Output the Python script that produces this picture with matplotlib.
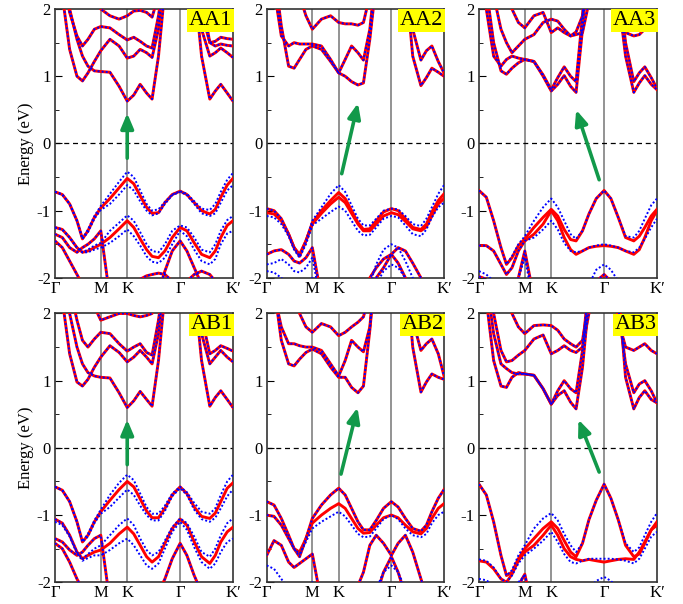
import matplotlib
matplotlib.use('Agg')
import matplotlib.pyplot as plt

plt.rcParams['font.family'] = 'serif'
plt.rcParams['font.serif'] = ['Liberation Serif', 'DejaVu Serif']

# k-path Γ-M-K-Γ-K' (|b| = 1)
k_ticks = [0.0, 0.5, 0.7887, 1.366, 1.943]
k_labels = ['Γ', 'M', 'K', 'Γ', 'K′']
k = [0.0, 0.08, 0.16, 0.24, 0.30, 0.36, 0.43, 0.5,
     0.6, 0.7, 0.7887,
     0.86, 0.93, 1.0, 1.06, 1.13, 1.2, 1.28, 1.366,
     1.44, 1.52, 1.6, 1.69, 1.75, 1.81, 1.88, 1.943]

# ---------------- AA1 ----------------
aa1_c1 = [3.0, 2.2, 1.4, 1.0, 0.93, 1.05, 1.22, 1.38, 1.55, 1.45, 1.27, 1.3, 1.4, 1.35, 1.28, 1.7, 2.6, 3.0, 3.0, 3.0, 2.6, 1.7, 1.3, 1.35, 1.42, 1.35, 1.28]
aa1_c2 = [3.0, 2.6, 2.0, 1.55, 1.3, 1.15, 1.08, 1.07, 1.06, 0.85, 0.63, 0.72, 0.88, 0.75, 0.66, 1.3, 2.3, 3.0, 3.0, 3.0, 2.4, 1.3, 0.66, 0.78, 0.88, 0.75, 0.63]
aa1_c3 = [3.0, 2.5, 1.95, 1.6, 1.45, 1.55, 1.7, 1.74, 1.72, 1.62, 1.54, 1.58, 1.52, 1.45, 1.42, 1.9, 2.6, 3.0, 3.0, 3.0, 2.7, 1.95, 1.5, 1.52, 1.58, 1.56, 1.55]
aa1_c4 = [3.0, 3.0, 3.0, 2.9, 2.7, 2.5, 2.2, 2.0, 1.9, 1.85, 1.9, 1.97, 1.98, 1.95, 1.88, 2.2, 3.0, 3.0, 3.0, 3.0, 3.0, 2.2, 1.5, 1.45, 1.48, 1.46, 1.45]
aa1_v3 = [-1.45, -1.55, -1.75, -1.95, -2.1, -2.2, -2.3, -2.4, -2.5, -2.6, -2.6, -2.6, -2.5, -2.4, -2.3, -2.2, -1.9, -1.6, -1.45, -1.6, -1.85, -2.1, -2.3, -2.4, -2.5, -2.5, -2.5]
aa1_v4 = [-2.2, -2.3, -2.4, -2.5, -2.5, -2.5, -2.4, -2.2, -2.3, -2.3, -2.2, -2.1, -2.02, -1.97, -1.95, -1.93, -1.95, -2.05, -2.2, -2.05, -1.95, -1.9, -1.95, -2.05, -2.2, -2.3, -2.3]
aa1_v5 = [-1.35, -1.4, -1.55, -1.62, -1.55, -1.5, -1.42, -1.3, -2.3, -2.6, -2.6, -2.6, -2.6, -2.6, -2.6, -2.6, -2.6, -2.6, -2.6, -2.6, -2.6, -2.6, -2.6, -2.6, -2.6, -2.6, -2.6]
aa1_v1 = [-0.72, -0.76, -0.9, -1.15, -1.42, -1.3, -1.1, -0.96, -0.82, -0.66, -0.52, -0.6, -0.78, -0.95, -1.04, -1.03, -0.88, -0.76, -0.71, -0.76, -0.88, -1.0, -1.05, -0.98, -0.8, -0.62, -0.52]
aa1_v2 = [-1.25, -1.28, -1.4, -1.55, -1.62, -1.6, -1.55, -1.5, -1.4, -1.27, -1.15, -1.25, -1.42, -1.58, -1.68, -1.7, -1.6, -1.4, -1.25, -1.3, -1.48, -1.65, -1.7, -1.6, -1.4, -1.22, -1.15]
aa1_v1u = [-0.72, -0.76, -0.9, -1.15, -1.42, -1.28, -1.08, -0.93, -0.75, -0.57, -0.42, -0.5, -0.7, -0.9, -1.0, -0.98, -0.87, -0.76, -0.71, -0.75, -0.86, -0.97, -0.99, -0.9, -0.72, -0.54, -0.44]
aa1_v1l = [-0.72, -0.76, -0.9, -1.15, -1.42, -1.32, -1.12, -0.99, -0.9, -0.76, -0.62, -0.7, -0.86, -1.0, -1.07, -1.04, -0.9, -0.77, -0.72, -0.77, -0.9, -1.04, -1.08, -1.04, -0.88, -0.7, -0.62]
aa1_v2u = [-1.25, -1.28, -1.4, -1.55, -1.62, -1.58, -1.52, -1.48, -1.3, -1.18, -1.07, -1.15, -1.32, -1.5, -1.6, -1.62, -1.5, -1.3, -1.22, -1.25, -1.4, -1.58, -1.62, -1.5, -1.3, -1.14, -1.08]
aa1_v2l = [-1.25, -1.28, -1.4, -1.55, -1.62, -1.62, -1.58, -1.55, -1.48, -1.38, -1.28, -1.38, -1.52, -1.68, -1.76, -1.78, -1.7, -1.5, -1.3, -1.38, -1.58, -1.75, -1.8, -1.72, -1.5, -1.34, -1.3]

# ---------------- AA2 ----------------
aa2_c1 = [3.0, 2.6, 1.75, 1.15, 1.12, 1.25, 1.4, 1.45, 1.4, 1.22, 1.05, 1.0, 0.92, 0.87, 0.9, 1.55, 2.4, 3.0, 3.0, 3.0, 2.5, 1.3, 0.86, 0.98, 1.12, 1.06, 1.0]
aa2_c2 = [3.0, 2.3, 1.6, 1.45, 1.5, 1.48, 1.48, 1.48, 1.45, 1.25, 1.05, 1.25, 1.45, 1.35, 1.24, 1.7, 2.6, 3.0, 3.0, 3.0, 2.7, 1.7, 1.24, 1.38, 1.45, 1.22, 1.05]
aa2_c3 = [3.0, 3.0, 3.0, 2.8, 2.5, 2.2, 1.9, 1.7, 1.85, 1.9, 1.8, 1.78, 1.78, 1.76, 1.8, 2.2, 3.0, 3.0, 3.0, 3.0, 3.0, 2.1, 1.75, 1.72, 1.76, 1.85, 1.95]
aa2_v3 = [-2.6, -2.6, -2.6, -2.6, -2.6, -2.6, -2.6, -2.6, -2.6, -2.6, -2.6, -2.6, -2.6, -2.4, -2.2, -2.0, -1.85, -1.72, -1.65, -1.55, -1.6, -1.78, -2.0, -2.2, -2.4, -2.6, -2.6]
aa2_v4 = [-2.6, -2.6, -2.6, -2.6, -2.6, -2.6, -2.6, -2.6, -2.6, -2.6, -2.6, -2.6, -2.6, -2.6, -2.6, -2.3, -2.0, -1.85, -1.65, -1.78, -2.0, -2.3, -2.6, -2.6, -2.6, -2.6, -2.6]
aa2_v5 = [-1.65, -1.6, -1.58, -1.65, -1.75, -1.78, -1.7, -1.55, -2.3, -2.6, -2.6, -2.6, -2.6, -2.6, -2.6, -2.6, -2.6, -2.6, -2.6, -2.6, -2.6, -2.6, -2.6, -2.6, -2.6, -2.6, -2.6]
aa2_v1a = [-0.97, -1.0, -1.12, -1.35, -1.55, -1.68, -1.45, -1.18, -1.0, -0.85, -0.73, -0.82, -1.0, -1.18, -1.28, -1.27, -1.15, -1.02, -0.97, -1.0, -1.12, -1.25, -1.28, -1.2, -1.02, -0.85, -0.75]
aa2_v1b = [-1.03, -1.05, -1.15, -1.35, -1.55, -1.65, -1.45, -1.2, -1.04, -0.9, -0.8, -0.88, -1.04, -1.2, -1.3, -1.3, -1.2, -1.08, -1.03, -1.06, -1.16, -1.27, -1.3, -1.24, -1.08, -0.9, -0.82]
aa2_v1u = [-0.97, -1.0, -1.12, -1.35, -1.55, -1.68, -1.45, -1.15, -0.95, -0.75, -0.62, -0.72, -0.92, -1.12, -1.22, -1.22, -1.12, -1.0, -0.97, -0.98, -1.08, -1.2, -1.23, -1.12, -0.95, -0.75, -0.62]
aa2_v1l = [-1.08, -1.1, -1.2, -1.38, -1.58, -1.7, -1.5, -1.22, -1.12, -1.02, -0.94, -1.0, -1.15, -1.3, -1.37, -1.36, -1.25, -1.12, -1.08, -1.1, -1.22, -1.35, -1.38, -1.28, -1.1, -0.95, -0.88]
aa2_v3u = [-1.8, -1.78, -1.72, -1.8, -1.9, -1.92, -1.85, -1.7, -2.4, -2.6, -2.6, -2.6, -2.6, -2.6, -2.4, -2.1, -1.8, -1.58, -1.5, -1.55, -1.75, -2.0, -2.3, -2.6, -2.6, -2.6, -2.6]
aa2_v3l = [-1.9, -1.92, -2.0, -2.1, -2.2, -2.2, -2.1, -2.0, -2.6, -2.6, -2.6, -2.6, -2.6, -2.6, -2.6, -2.4, -2.1, -1.9, -1.8, -1.85, -2.0, -2.2, -2.5, -2.6, -2.6, -2.6, -2.6]

# ---------------- AA3 ----------------
aa3_c1 = [3.0, 2.3, 1.5, 1.08, 1.03, 1.12, 1.2, 1.25, 1.22, 1.0, 0.78, 0.88, 1.01, 0.85, 0.76, 1.7, 2.8, 3.0, 3.0, 3.0, 2.2, 1.3, 0.76, 0.9, 1.01, 0.88, 0.8]
aa3_c2 = [3.0, 2.0, 1.3, 1.15, 1.25, 1.3, 1.27, 1.25, 1.22, 1.02, 0.8, 0.98, 1.14, 1.0, 0.92, 1.9, 3.0, 3.0, 3.0, 3.0, 2.5, 1.5, 0.92, 1.05, 1.14, 0.98, 0.82]
aa3_c3 = [3.0, 3.0, 2.2, 1.7, 1.5, 1.35, 1.45, 1.55, 1.62, 1.8, 1.85, 1.82, 1.7, 1.6, 1.62, 1.65, 2.1, 2.9, 3.0, 2.8, 1.95, 1.65, 1.6, 1.62, 1.7, 1.85, 2.05]
aa3_c4 = [3.0, 3.0, 3.0, 2.6, 2.3, 2.0, 1.8, 1.72, 1.9, 1.95, 1.65, 1.72, 1.65, 1.6, 1.66, 1.9, 2.6, 3.0, 3.0, 3.0, 3.0, 3.0, 3.0, 3.0, 3.0, 3.0, 3.0]
aa3_v3 = [-1.98, -2.02, -2.1, -2.3, -2.4, -2.3, -2.0, -1.6, -2.3, -2.6, -2.6, -2.6, -2.6, -2.6, -2.6, -2.5, -2.2, -2.05, -1.95, -2.05, -2.2, -2.5, -2.6, -2.6, -2.6, -2.6, -2.6]
aa3_v1 = [-0.7, -0.8, -1.15, -1.55, -1.8, -1.7, -1.52, -1.42, -1.25, -1.1, -0.98, -1.08, -1.28, -1.43, -1.45, -1.3, -1.05, -0.82, -0.7, -0.82, -1.1, -1.4, -1.45, -1.38, -1.25, -1.08, -0.98]
aa3_v2 = [-1.52, -1.52, -1.6, -1.8, -1.95, -1.85, -1.6, -1.45, -1.35, -1.2, -1.0, -1.15, -1.4, -1.58, -1.65, -1.6, -1.55, -1.53, -1.52, -1.53, -1.55, -1.6, -1.65, -1.58, -1.4, -1.15, -1.0]
aa3_v1u = [-0.7, -0.8, -1.15, -1.55, -1.8, -1.68, -1.5, -1.38, -1.15, -0.95, -0.82, -0.95, -1.15, -1.35, -1.42, -1.3, -1.05, -0.82, -0.7, -0.82, -1.1, -1.38, -1.4, -1.3, -1.12, -0.92, -0.82]
aa3_v1l = [-1.52, -1.52, -1.6, -1.8, -1.95, -1.85, -1.6, -1.45, -1.4, -1.28, -1.15, -1.28, -1.48, -1.6, -1.62, -1.6, -1.55, -1.52, -1.5, -1.52, -1.55, -1.6, -1.62, -1.55, -1.42, -1.25, -1.12]
aa3_vb = [-1.9, -1.95, -2.05, -2.2, -2.3, -2.2, -2.0, -1.7, -2.4, -2.6, -2.6, -2.6, -2.6, -2.6, -2.6, -2.4, -2.1, -1.88, -1.8, -1.88, -2.05, -2.3, -2.6, -2.6, -2.6, -2.6, -2.6]

# ---------------- AB1 ----------------
ab1_c1 = [3.0, 2.2, 1.4, 0.98, 0.92, 1.02, 1.2, 1.35, 1.52, 1.42, 1.28, 1.35, 1.45, 1.35, 1.25, 1.7, 2.6, 3.0, 3.0, 3.0, 2.6, 1.7, 1.25, 1.35, 1.45, 1.35, 1.28]
ab1_c2 = [3.0, 2.6, 2.0, 1.5, 1.25, 1.12, 1.07, 1.05, 1.04, 0.82, 0.6, 0.7, 0.84, 0.72, 0.62, 1.3, 2.3, 3.0, 3.0, 3.0, 2.4, 1.3, 0.62, 0.75, 0.85, 0.72, 0.6]
ab1_c3 = [3.0, 3.0, 2.4, 1.9, 1.6, 1.5, 1.62, 1.72, 1.7, 1.55, 1.44, 1.5, 1.55, 1.42, 1.38, 1.9, 2.6, 3.0, 3.0, 3.0, 2.7, 1.95, 1.4, 1.45, 1.52, 1.48, 1.44]
ab1_c4 = [3.0, 3.0, 3.0, 2.9, 2.7, 2.4, 2.1, 1.9, 1.95, 2.0, 2.0, 1.97, 1.95, 1.97, 2.0, 2.3, 3.0, 3.0, 3.0, 3.0, 3.0, 3.0, 3.0, 3.0, 3.0, 3.0, 3.0]
ab1_v3 = [-1.42, -1.5, -1.7, -1.95, -2.1, -2.2, -2.3, -2.4, -2.5, -2.6, -2.6, -2.6, -2.5, -2.4, -2.3, -2.15, -1.95, -1.65, -1.42, -1.6, -1.9, -2.15, -2.3, -2.4, -2.5, -2.5, -2.5]
ab1_v5 = [-1.35, -1.4, -1.52, -1.6, -1.55, -1.45, -1.35, -1.3, -2.3, -2.6, -2.6, -2.6, -2.6, -2.6, -2.6, -2.6, -2.6, -2.6, -2.6, -2.6, -2.6, -2.6, -2.6, -2.6, -2.6, -2.6, -2.6]
ab1_v1 = [-0.58, -0.63, -0.8, -1.1, -1.4, -1.3, -1.1, -0.95, -0.78, -0.62, -0.5, -0.58, -0.76, -0.94, -1.04, -1.04, -0.9, -0.7, -0.58, -0.68, -0.88, -1.02, -1.05, -0.97, -0.8, -0.6, -0.52]
ab1_v2 = [-1.06, -1.12, -1.3, -1.55, -1.65, -1.6, -1.55, -1.52, -1.42, -1.28, -1.18, -1.28, -1.45, -1.62, -1.7, -1.62, -1.42, -1.2, -1.06, -1.15, -1.4, -1.62, -1.72, -1.6, -1.4, -1.25, -1.18]
ab1_v1u = [-0.58, -0.63, -0.8, -1.1, -1.4, -1.28, -1.08, -0.92, -0.7, -0.52, -0.4, -0.48, -0.68, -0.88, -0.98, -0.98, -0.86, -0.68, -0.58, -0.66, -0.82, -0.95, -0.98, -0.9, -0.7, -0.5, -0.4]
ab1_v1l = [-0.58, -0.63, -0.8, -1.1, -1.4, -1.32, -1.12, -0.98, -0.88, -0.74, -0.62, -0.7, -0.86, -1.0, -1.08, -1.08, -0.94, -0.72, -0.6, -0.7, -0.92, -1.06, -1.1, -1.04, -0.9, -0.72, -0.62]
ab1_v2u = [-1.06, -1.12, -1.3, -1.55, -1.65, -1.58, -1.5, -1.45, -1.3, -1.15, -1.05, -1.15, -1.35, -1.52, -1.6, -1.55, -1.38, -1.18, -1.05, -1.12, -1.32, -1.55, -1.62, -1.5, -1.3, -1.12, -1.05]
ab1_v2l = [-1.1, -1.15, -1.32, -1.57, -1.68, -1.64, -1.6, -1.6, -1.52, -1.42, -1.35, -1.45, -1.6, -1.75, -1.8, -1.72, -1.5, -1.25, -1.1, -1.22, -1.48, -1.7, -1.8, -1.72, -1.55, -1.4, -1.35]

# ---------------- AB2 ----------------
ab2_c1 = [3.0, 2.4, 1.6, 1.25, 1.22, 1.32, 1.42, 1.47, 1.4, 1.2, 1.05, 1.05, 0.9, 0.82, 0.92, 1.75, 2.8, 3.0, 3.0, 3.0, 2.8, 1.5, 0.83, 0.98, 1.1, 1.05, 1.02]
ab2_c2 = [3.0, 2.3, 1.8, 1.55, 1.55, 1.52, 1.5, 1.5, 1.45, 1.25, 1.07, 1.3, 1.6, 1.5, 1.43, 1.8, 2.8, 3.0, 3.0, 3.0, 2.9, 1.9, 1.45, 1.55, 1.62, 1.4, 1.07]
ab2_c3 = [3.0, 3.0, 3.0, 2.6, 2.3, 2.0, 1.8, 1.72, 1.85, 1.8, 1.67, 1.72, 1.8, 1.87, 1.95, 2.3, 3.0, 3.0, 3.0, 3.0, 3.0, 3.0, 3.0, 3.0, 3.0, 3.0, 3.0]
ab2_v1a = [-0.8, -0.85, -1.05, -1.3, -1.5, -1.62, -1.35, -1.05, -0.85, -0.7, -0.6, -0.7, -0.9, -1.1, -1.22, -1.22, -1.08, -0.9, -0.8, -0.88, -1.05, -1.2, -1.24, -1.15, -0.95, -0.75, -0.62]
ab2_v2 = [-1.6, -1.38, -1.45, -1.7, -1.78, -1.72, -1.65, -1.58, -2.3, -2.6, -2.6, -2.6, -2.6, -2.6, -2.6, -2.6, -2.6, -2.6, -2.6, -2.6, -2.6, -2.6, -2.6, -2.6, -2.6, -2.6, -2.6]
ab2_v3 = [-2.6, -2.6, -2.6, -2.6, -2.6, -2.6, -2.6, -2.6, -2.6, -2.6, -2.6, -2.6, -2.6, -2.05, -1.85, -1.45, -1.3, -1.42, -1.6, -1.42, -1.3, -1.55, -1.95, -2.2, -2.5, -2.6, -2.6]
ab2_v4 = [-2.6, -2.6, -2.6, -2.6, -2.6, -2.6, -2.6, -2.6, -2.6, -2.6, -2.6, -2.6, -2.6, -2.6, -2.6, -2.6, -2.2, -1.85, -1.62, -1.85, -2.2, -2.6, -2.6, -2.6, -2.6, -2.6, -2.6]
ab2_v1b = [-1.0, -1.02, -1.15, -1.35, -1.5, -1.55, -1.35, -1.12, -1.0, -0.9, -0.83, -0.9, -1.05, -1.2, -1.27, -1.26, -1.15, -1.04, -1.0, -1.04, -1.15, -1.25, -1.28, -1.2, -1.05, -0.9, -0.83]
ab2_v1l = [-1.0, -1.02, -1.15, -1.35, -1.5, -1.58, -1.4, -1.2, -1.1, -1.02, -0.95, -1.02, -1.15, -1.28, -1.33, -1.32, -1.2, -1.06, -1.0, -1.06, -1.2, -1.3, -1.33, -1.28, -1.12, -1.0, -0.95]
ab2_v4b = [-1.75, -1.8, -1.95, -2.1, -2.2, -2.2, -2.1, -2.0, -2.6, -2.6, -2.6, -2.6, -2.6, -2.6, -2.6, -2.4, -2.1, -1.85, -1.75, -1.85, -2.1, -2.4, -2.6, -2.6, -2.6, -2.6, -2.6]

# ---------------- AB3 ----------------
ab3_c1 = [3.0, 2.2, 1.3, 0.92, 0.9, 1.05, 1.12, 1.1, 1.08, 0.88, 0.65, 0.85, 1.0, 0.88, 0.82, 1.45, 2.5, 3.0, 3.0, 3.0, 2.1, 1.25, 0.82, 0.95, 1.0, 0.85, 0.67]
ab3_c2 = [3.0, 2.5, 1.7, 1.25, 1.18, 1.12, 1.1, 1.1, 1.08, 0.88, 0.65, 0.78, 0.85, 0.68, 0.58, 1.2, 2.2, 3.0, 3.0, 3.0, 2.4, 1.05, 0.58, 0.75, 0.85, 0.72, 0.67]
ab3_c3 = [3.0, 3.0, 2.0, 1.45, 1.28, 1.3, 1.38, 1.45, 1.62, 1.68, 1.4, 1.45, 1.52, 1.45, 1.42, 1.5, 2.0, 2.8, 3.0, 2.8, 1.9, 1.5, 1.45, 1.5, 1.55, 1.45, 1.4]
ab3_c4 = [3.0, 3.0, 3.0, 2.6, 2.3, 2.0, 1.8, 1.7, 1.82, 1.83, 1.82, 1.75, 1.62, 1.55, 1.5, 1.6, 2.2, 3.0, 3.0, 3.0, 3.0, 3.0, 3.0, 3.0, 3.0, 3.0, 3.0]
ab3_v3 = [-2.6, -2.6, -2.5, -2.3, -2.2, -2.15, -2.05, -1.88, -2.5, -2.6, -2.6, -2.6, -2.6, -2.6, -2.6, -2.6, -2.6, -2.6, -2.6, -2.6, -2.6, -2.6, -2.6, -2.6, -2.6, -2.6, -2.6]
ab3_v1 = [-0.54, -0.7, -1.1, -1.6, -1.9, -1.85, -1.65, -1.5, -1.35, -1.2, -1.1, -1.2, -1.38, -1.55, -1.62, -1.42, -1.07, -0.78, -0.54, -0.75, -1.07, -1.45, -1.62, -1.58, -1.42, -1.22, -1.1]
ab3_v2 = [-1.68, -1.7, -1.8, -1.95, -2.0, -1.88, -1.68, -1.55, -1.45, -1.3, -1.15, -1.3, -1.5, -1.62, -1.66, -1.68, -1.66, -1.68, -1.7, -1.68, -1.66, -1.65, -1.66, -1.55, -1.4, -1.22, -1.15]
ab3_v1u = [-0.54, -0.7, -1.1, -1.6, -1.9, -1.82, -1.6, -1.45, -1.2, -1.05, -0.97, -1.08, -1.28, -1.45, -1.55, -1.42, -1.07, -0.78, -0.54, -0.75, -1.07, -1.42, -1.55, -1.48, -1.3, -1.1, -0.97]
ab3_v1l = [-1.66, -1.68, -1.78, -1.95, -2.0, -1.9, -1.72, -1.6, -1.5, -1.38, -1.25, -1.4, -1.58, -1.7, -1.72, -1.68, -1.65, -1.65, -1.65, -1.65, -1.66, -1.68, -1.72, -1.65, -1.5, -1.32, -1.25]
ab3_vb = [-1.95, -1.97, -2.05, -2.2, -2.3, -2.2, -2.0, -1.9, -2.4, -2.6, -2.6, -2.6, -2.6, -2.6, -2.6, -2.4, -2.1, -1.98, -1.92, -1.98, -2.1, -2.4, -2.6, -2.6, -2.6, -2.6, -2.6]

# arrows: (k_tail, E_tail, k_head, E_head)
arrow_aa1 = (0.7887, -0.22, 0.7887, 0.45)
arrow_aa2 = (0.822, -0.45, 1.0, 0.6)
arrow_aa3 = (1.312, -0.54, 1.061, 0.5)
arrow_ab1 = (0.7887, -0.25, 0.7887, 0.42)
arrow_ab2 = (0.814, -0.39, 0.995, 0.6)
arrow_ab3 = (1.312, -0.36, 1.086, 0.42)

panels = [
    ('AA1', [aa1_c1, aa1_c2, aa1_c3, aa1_c4, aa1_v3, aa1_v4, aa1_v5],
     [aa1_v1, aa1_v2], [aa1_v1u, aa1_v1l, aa1_v2u, aa1_v2l], arrow_aa1),
    ('AA2', [aa2_c1, aa2_c2, aa2_c3, aa2_v3, aa2_v4, aa2_v5],
     [aa2_v1a, aa2_v1b], [aa2_v1u, aa2_v1l, aa2_v3u, aa2_v3l], arrow_aa2),
    ('AA3', [aa3_c1, aa3_c2, aa3_c3, aa3_c4, aa3_v3],
     [aa3_v1, aa3_v2], [aa3_v1u, aa3_v1l, aa3_vb], arrow_aa3),
    ('AB1', [ab1_c1, ab1_c2, ab1_c3, ab1_c4, ab1_v3, ab1_v5],
     [ab1_v1, ab1_v2], [ab1_v1u, ab1_v1l, ab1_v2u, ab1_v2l], arrow_ab1),
    ('AB2', [ab2_c1, ab2_c2, ab2_c3, ab2_v1a, ab2_v2, ab2_v3, ab2_v4],
     [ab2_v1b], [ab2_v1l, ab2_v4b], arrow_ab2),
    ('AB3', [ab3_c1, ab3_c2, ab3_c3, ab3_c4, ab3_v3],
     [ab3_v1, ab3_v2], [ab3_v1u, ab3_v1l, ab3_vb], arrow_ab3),
]


def draw_panel(ax, label, both, red_only, blue_only, arrow):
    for x in k_ticks[1:-1]:
        ax.axvline(x, color='#8a8a8a', lw=1.3, zorder=1)
    ax.axhline(0, color='black', lw=0.9, ls=(0, (4, 3)), zorder=2)
    for e in red_only + both:
        ax.plot(k, e, color='#ff0000', lw=2.1, solid_joinstyle='round', zorder=3)
    for e in blue_only + both:
        ax.plot(k, e, color='#0000ff', lw=1.4, ls=(0, (1, 1.1)), zorder=4)
    ax.annotate('', xy=arrow[2:], xytext=arrow[:2],
                arrowprops=dict(arrowstyle='-|>,head_length=0.9,head_width=0.38',
                                color='#12994a', lw=2.6, shrinkA=0, shrinkB=0),
                zorder=5)
    ax.text(0.997, 0.993, label, transform=ax.transAxes, ha='right', va='top',
            fontsize=16, zorder=6,
            bbox=dict(boxstyle='square,pad=0.08', fc='#ffff00', ec='none'))
    ax.set_xlim(k_ticks[0], k_ticks[-1])
    ax.set_ylim(-2, 2)
    ax.set_xticks(k_ticks)
    ax.set_xticklabels(k_labels)
    ax.set_yticks([-2, -1, 0, 1, 2])
    ax.set_yticklabels(['-2', '-1', '0', '1', '2'])
    ax.set_yticks([-1.5, -0.5, 0.5, 1.5], minor=True)
    ax.tick_params(axis='x', length=0, pad=2, labelsize=12)
    ax.tick_params(axis='y', which='major', direction='in', length=5, labelsize=12, pad=3)
    ax.tick_params(axis='y', which='minor', direction='in', length=3)
    for s in ax.spines.values():
        s.set_linewidth(1.2)
        s.set_color('#333333')


fig = plt.figure(figsize=(6.83, 6.04), dpi=100)
lefts = [0.0805, 0.3905, 0.7013]
widths = [0.2606, 0.2596, 0.2606]
bottoms = [0.540, 0.036]
height = 0.445

for i, (label, both, red_only, blue_only, arrow) in enumerate(panels):
    row, col = divmod(i, 3)
    ax = fig.add_axes([lefts[col], bottoms[row], widths[col], height])
    draw_panel(ax, label, both, red_only, blue_only, arrow)
    if col == 0:
        ax.set_ylabel('Energy (eV)', fontsize=12, labelpad=2)

fig.savefig('out.png', dpi=100)
